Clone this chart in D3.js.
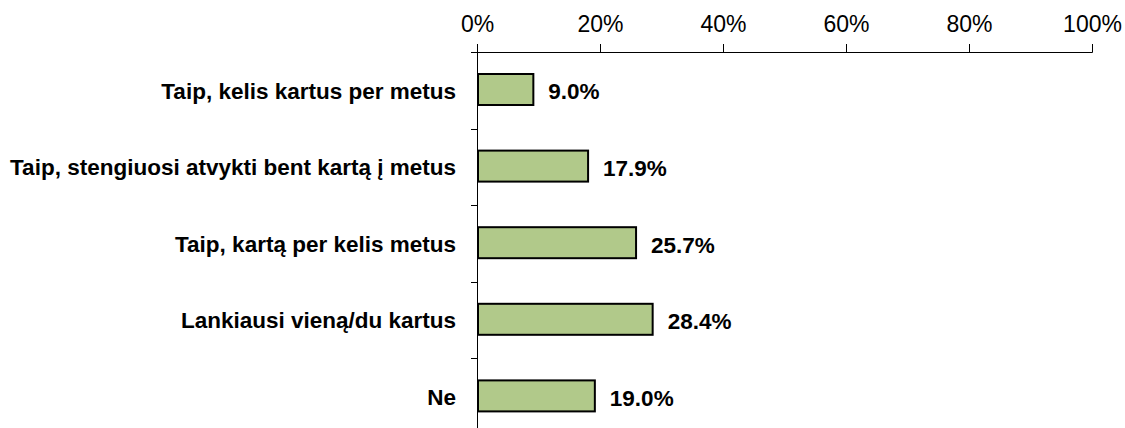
<!DOCTYPE html>
<html>
<head>
<meta charset="utf-8">
<script src="https://cdn.jsdelivr.net/npm/d3@7"></script>
<style>
html,body{margin:0;padding:0;background:#fff;}
svg{display:block;}
</style>
</head>
<body>
<svg id="chart" width="1125" height="428"></svg>
<script>
const categories = [
  "Taip, kelis kartus per metus",
  "Taip, stengiuosi atvykti bent kartą į metus",
  "Taip, kartą per kelis metus",
  "Lankiausi vieną/du kartus",
  "Ne"
];
const values = [9.0, 17.9, 25.7, 28.4, 19.0];
const tickValues = [0, 20, 40, 60, 80, 100];

const svg = d3.select("#chart");
const mLeft = 477, mRight = 1092, mTop = 52, mBottom = 435;

const x = d3.scaleLinear().domain([0, 100]).range([mLeft, mRight]);
const yb = d3.scaleBand().domain(categories).range([mTop, mBottom]);
const barH = 31;
const yc = d => yb(d) + yb.bandwidth() / 2 - 0.8;

// top axis
const xAxis = d3.axisTop(x).tickValues(tickValues).tickFormat(d => d + "%").tickSize(8).tickSizeOuter(8);
const gx = svg.append("g").attr("transform", `translate(0,${mTop})`).call(xAxis);
gx.select(".domain").attr("stroke", "#000").attr("stroke-width", 1);
gx.selectAll(".tick line").attr("stroke", "#000");
gx.selectAll(".tick text").attr("font-family", "Liberation Sans, Arial, sans-serif")
  .attr("font-size", 23).attr("fill", "#000").attr("dy", "-0.4em");
svg.append("line").attr("x1", mLeft - 6).attr("x2", mLeft).attr("y1", mTop + 0.5).attr("y2", mTop + 0.5)
  .attr("stroke", "#000");

// category axis line
svg.append("line").attr("x1", mLeft + 0.5).attr("x2", mLeft + 0.5).attr("y1", mTop).attr("y2", mBottom)
  .attr("stroke", "#000");
svg.selectAll(".ctick").data(categories.slice(1)).enter().append("line")
  .attr("x1", mLeft - 6).attr("x2", mLeft)
  .attr("y1", d => Math.round(yb(d)) + 0.5).attr("y2", d => Math.round(yb(d)) + 0.5)
  .attr("stroke", "#000");

// bars
svg.selectAll(".bar").data(values).enter().append("rect")
  .attr("x", x(0) + 1)
  .attr("y", (d, i) => yc(categories[i]) - barH / 2)
  .attr("width", d => x(d) - x(0))
  .attr("height", barH)
  .attr("fill", "#b1c98a")
  .attr("stroke", "#000")
  .attr("stroke-width", 2);

// value labels
svg.selectAll(".val").data(values).enter().append("text")
  .attr("x", d => x(d) + 16)
  .attr("y", (d, i) => yc(categories[i]))
  .attr("dy", "0.44em")
  .attr("font-family", "Liberation Sans, Arial, sans-serif")
  .attr("font-weight", "bold")
  .attr("font-size", 22.5)
  .text(d => d.toFixed(1) + "%");

// category labels
svg.selectAll(".cat").data(categories).enter().append("text")
  .attr("x", mLeft - 21)
  .attr("y", d => yc(d))
  .attr("dy", "0.4em")
  .attr("text-anchor", "end")
  .attr("font-family", "Liberation Sans, Arial, sans-serif")
  .attr("font-weight", "bold")
  .attr("font-size", 22.5)
  .text(d => d);
</script>
</body>
</html>
